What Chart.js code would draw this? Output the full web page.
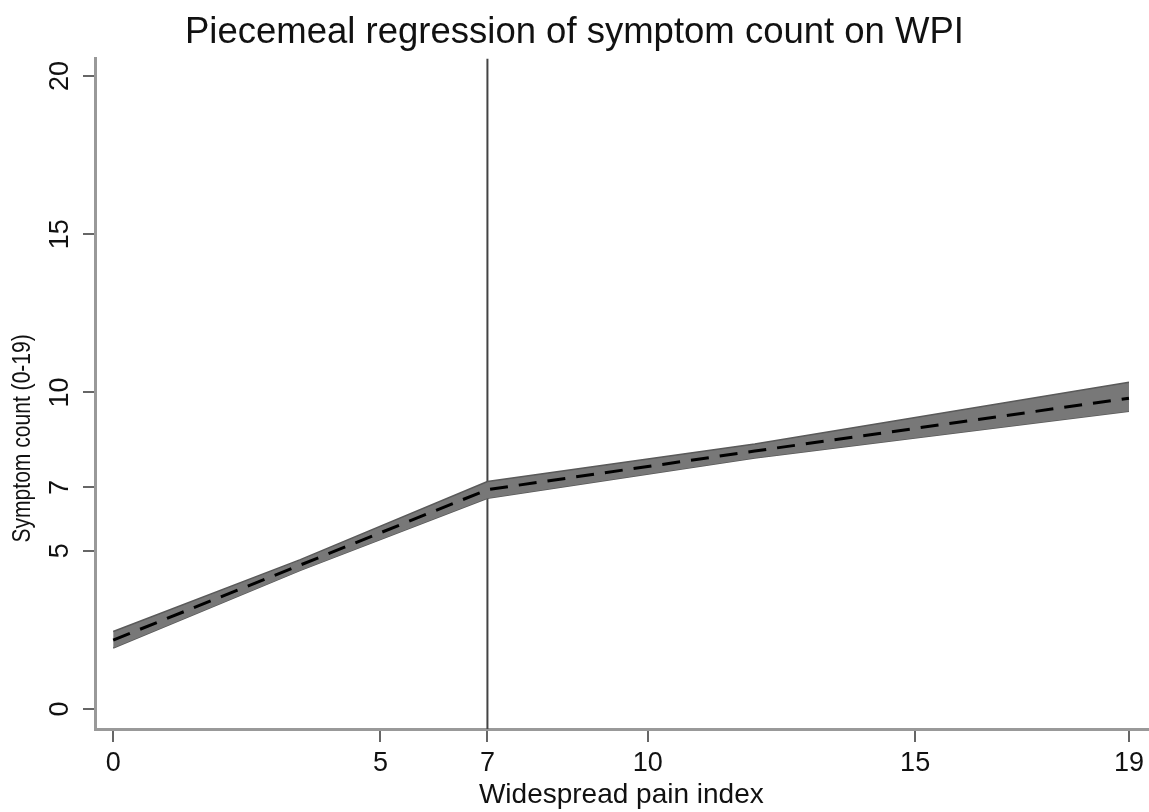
<!DOCTYPE html>
<html>
<head>
<meta charset="utf-8">
<script src="https://cdn.jsdelivr.net/npm/chart.js@4/dist/chart.umd.min.js"></script>
<style>
  html, body { margin: 0; padding: 0; background: #fff; }
  #wrap { width: 1149px; height: 812px; }
</style>
</head>
<body>
<div id="wrap"><canvas id="chart1"></canvas></div>
<script>
// values
const wpi = [0, 3.5, 7, 12, 19];
const fitted = [2.18, 4.55, 6.93, 8.15, 9.82];
const upperCI = [2.45, 4.72, 7.19, 8.37, 10.32];
const lowerCI = [1.93, 4.38, 6.66, 7.93, 9.41];
const knot = 7;

const xTicks = [0, 5, 7, 10, 15, 19];
const yTicks = [0, 5, 7, 10, 15, 20];

const yTitle = 'Symptom count (0-19)';
const font = "'Liberation Sans', Arial, Helvetica, sans-serif";

const pts = vals => wpi.map((x, i) => ({ x: x, y: vals[i] }));

// y tick labels and title are rotated in the original, draw them by hand
const yLabels = {
  id: 'yLabels',
  afterDraw(chart) {
    const ctx = chart.ctx;
    const y = chart.scales.y;
    ctx.save();
    ctx.fillStyle = '#111';
    ctx.textAlign = 'center';
    ctx.textBaseline = 'middle';
    ctx.font = '27px ' + font;
    yTicks.forEach(v => {
      ctx.save();
      ctx.translate(61, y.getPixelForValue(v));
      ctx.rotate(-Math.PI / 2);
      ctx.fillText(String(v), 0, 0);
      ctx.restore();
    });
    // title is squeezed along its length and sits below the axis middle
    ctx.font = '26px ' + font;
    ctx.translate(23, y.getPixelForValue(8.55));
    ctx.rotate(-Math.PI / 2);
    ctx.scale(0.81, 1);
    ctx.fillText(yTitle, 0, 0);
    ctx.restore();
  }
};

// vertical line at the knot
const knotLine = {
  id: 'knotLine',
  beforeDatasetsDraw(chart) {
    const ctx = chart.ctx;
    const a = chart.chartArea;
    const px = chart.scales.x.getPixelForValue(knot);
    ctx.save();
    ctx.strokeStyle = '#444';
    ctx.lineWidth = 2;
    ctx.beginPath();
    ctx.moveTo(px, a.top);
    ctx.lineTo(px, a.bottom);
    ctx.stroke();
    ctx.restore();
  }
};

const ctx1 = document.getElementById('chart1');
const chart = new Chart(ctx1, {
  type: 'line',
  data: {
    datasets: [
      {
        label: 'fitted',
        data: pts(fitted),
        borderColor: '#000',
        borderWidth: 3,
        borderDash: [18, 11],
        pointRadius: 0,
        fill: false,
        order: 0
      },
      {
        label: 'upper',
        data: pts(upperCI),
        borderColor: '#5a5a5a',
        borderWidth: 1.5,
        backgroundColor: 'rgb(120,120,120)',
        pointRadius: 0,
        fill: '+1',
        order: 1
      },
      {
        label: 'lower',
        data: pts(lowerCI),
        borderColor: '#5a5a5a',
        borderWidth: 1.5,
        pointRadius: 0,
        fill: false,
        order: 1
      }
    ]
  },
  options: {
    responsive: true,
    maintainAspectRatio: false,
    animation: false,
    layout: { padding: 0 },
    plugins: {
      legend: { display: false },
      tooltip: { enabled: false },
      title: {
        display: true,
        text: 'Piecemeal regression of symptom count on WPI',
        color: '#111',
        font: { family: font, size: 36.5, weight: 'normal' },
        padding: { top: 11, bottom: 4 }
      }
    },
    scales: {
      x: {
        type: 'linear',
        min: -0.34,
        max: 19.35,
        afterBuildTicks: s => { s.ticks = xTicks.map(v => ({ value: v })); },
        afterFit: s => { s.height = 83; },
        ticks: {
          color: '#111',
          font: { family: font, size: 27 },
          padding: 5,
          maxRotation: 0,
          autoSkip: false
        },
        grid: { drawOnChartArea: false, drawTicks: true, tickLength: 13, color: '#666', lineWidth: 2 },
        border: { display: true, color: '#999', width: 3 },
        title: {
          display: true,
          text: 'Widespread pain index',
          color: '#111',
          font: { family: font, size: 28 },
          padding: { top: 0, bottom: 0 }
        }
      },
      y: {
        type: 'linear',
        min: -0.63,
        max: 20.54,
        afterBuildTicks: s => { s.ticks = yTicks.map(v => ({ value: v })); },
        afterFit: s => { s.width = 95; },
        ticks: { display: false },
        grid: { drawOnChartArea: false, drawTicks: true, tickLength: 12, color: '#666', lineWidth: 2 },
        border: { display: true, color: '#999', width: 3 },
        title: { display: false }
      }
    }
  },
  plugins: [yLabels, knotLine]
});
</script>
</body>
</html>
